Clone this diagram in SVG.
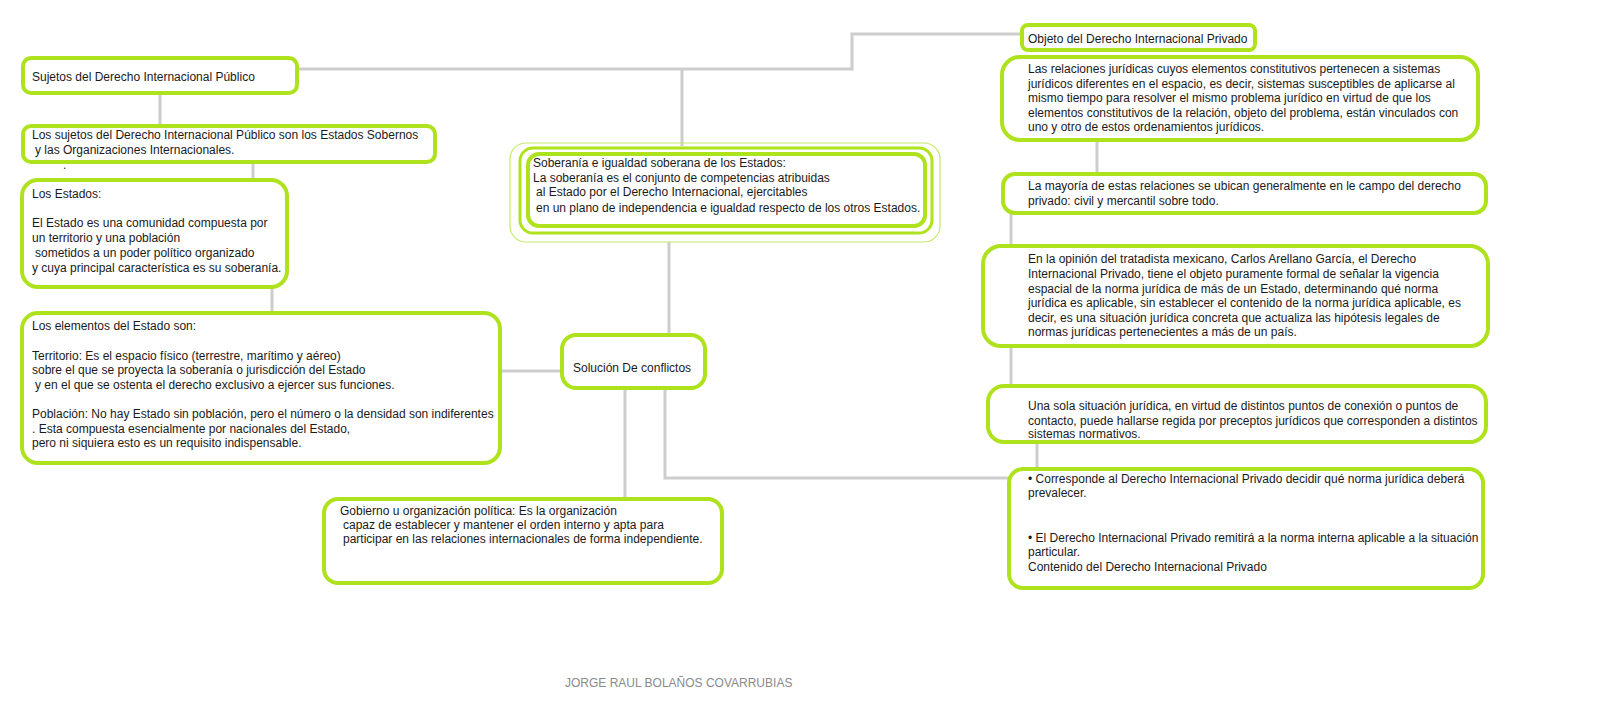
<svg xmlns="http://www.w3.org/2000/svg" width="1600" height="707" viewBox="0 0 1600 707">
<style>
.box{fill:#fff;stroke:#aee21c;stroke-width:4}
.thin{fill:none;stroke:#c4ea6a;stroke-width:1.2}
.mid{fill:none;stroke:#aee21c;stroke-width:3}
.con{fill:none;stroke:#cdcdcd;stroke-width:3;stroke-linejoin:miter}
text{font-family:"Liberation Sans",Arial,sans-serif;font-size:12px;fill:#1a1a1a}
.author{font-size:12px;fill:#8a8a8a}
</style>
<rect width="1600" height="707" fill="#fff"/>
<g id="connectors">
<polyline class="con" points="297,69 852,69 852,34 1022,34"/>
<polyline class="con" points="682,69 682,146"/>
<polyline class="con" points="160,93 160,126"/>
<polyline class="con" points="253,162 253,180"/>
<polyline class="con" points="272,287 272,313"/>
<polyline class="con" points="500,371 562,371"/>
<polyline class="con" points="669,242 669,335"/>
<polyline class="con" points="625,388 625,499"/>
<polyline class="con" points="665,388 665,478 1010,478"/>
<polyline class="con" points="1097,140 1097,174"/>
<polyline class="con" points="1011,213 1011,386"/>
<polyline class="con" points="1037,442 1037,469"/>
</g>
<g id="sujetos">
<rect class="box" x="23" y="58" width="274" height="35" rx="8"/>
<text x="32" y="81">Sujetos del Derecho Internacional Público</text>
</g>
<g id="los-sujetos">
<rect class="box" x="23" y="126" width="412" height="36" rx="8"/>
<text x="32" y="139">Los sujetos del Derecho Internacional Público son los Estados Sobernos</text>
<text x="35" y="154">y las Organizaciones Internacionales.</text>
<text x="63" y="169">.</text>
</g>
<g id="los-estados">
<rect class="box" x="22" y="180" width="265" height="107" rx="16"/>
<text x="32" y="198">Los Estados:</text>
<text x="32" y="227">El Estado es una comunidad compuesta por</text>
<text x="32" y="242">un territorio y una población</text>
<text x="35" y="257">sometidos a un poder político organizado</text>
<text x="32" y="272">y cuya principal característica es su soberanía.</text>
</g>
<g id="elementos">
<rect class="box" x="22" y="313" width="478" height="150" rx="16"/>
<text x="32" y="330">Los elementos del Estado son:</text>
<text x="32" y="360">Territorio: Es el espacio físico (terrestre, marítimo y aéreo)</text>
<text x="32" y="374">sobre el que se proyecta la soberanía o jurisdicción del Estado</text>
<text x="35" y="389">y en el que se ostenta el derecho exclusivo a ejercer sus funciones.</text>
<text x="32" y="418">Población: No hay Estado sin población, pero el número o la densidad son indiferentes</text>
<text x="32" y="433">. Esta compuesta esencialmente por nacionales del Estado,</text>
<text x="32" y="447">pero ni siquiera esto es un requisito indispensable.</text>
</g>
<g id="soberania">
<rect class="thin" x="510" y="143" width="430" height="99" rx="16"/>
<rect class="mid" x="520" y="148" width="412" height="85" rx="13"/>
<rect class="box" x="528" y="154" width="397" height="72" rx="11"/>
<text x="533" y="167">Soberanía e igualdad soberana de los Estados:</text>
<text x="533" y="182">La soberanía es el conjunto de competencias atribuidas</text>
<text x="536" y="196">al Estado por el Derecho Internacional, ejercitables</text>
<text x="536" y="212">en un plano de independencia e igualdad respecto de los otros Estados.</text>
</g>
<g id="solucion">
<rect class="box" x="562" y="335" width="143" height="53" rx="14"/>
<text x="573" y="372">Solución De conflictos</text>
</g>
<g id="gobierno">
<rect class="box" x="324" y="499" width="398" height="84" rx="14"/>
<text x="340" y="515">Gobierno u organización política: Es la organización</text>
<text x="343" y="529">capaz de establecer y mantener el orden interno y apta para</text>
<text x="343" y="543">participar en las relaciones internacionales de forma independiente.</text>
</g>
<g id="objeto">
<rect class="box" x="1022" y="25" width="233" height="25" rx="6"/>
<text x="1028" y="43">Objeto del Derecho Internacional Privado</text>
</g>
<g id="relaciones">
<rect class="box" x="1002" y="57" width="476" height="83" rx="18"/>
<text x="1028" y="73">Las relaciones jurídicas cuyos elementos constitutivos pertenecen a sistemas</text>
<text x="1028" y="88">jurídicos diferentes en el espacio, es decir, sistemas susceptibles de aplicarse al</text>
<text x="1028" y="102">mismo tiempo para resolver el mismo problema jurídico en virtud de que los</text>
<text x="1028" y="117">elementos constitutivos de la relación, objeto del problema, están vinculados con</text>
<text x="1028" y="131">uno y otro de estos ordenamientos jurídicos.</text>
</g>
<g id="mayoria">
<rect class="box" x="1003" y="174" width="483" height="39" rx="12"/>
<text x="1028" y="190">La mayoría de estas relaciones se ubican generalmente en le campo del derecho</text>
<text x="1028" y="205">privado: civil y mercantil sobre todo.</text>
</g>
<g id="opinion">
<rect class="box" x="983" y="246" width="505" height="100" rx="18"/>
<text x="1028" y="263">En la opinión del tratadista mexicano, Carlos Arellano García, el Derecho</text>
<text x="1028" y="278">Internacional Privado, tiene el objeto puramente formal de señalar la vigencia</text>
<text x="1028" y="293">espacial de la norma jurídica de más de un Estado, determinando qué norma</text>
<text x="1028" y="307">jurídica es aplicable, sin establecer el contenido de la norma jurídica aplicable, es</text>
<text x="1028" y="322">decir, es una situación jurídica concreta que actualiza las hipótesis legales de</text>
<text x="1028" y="336">normas jurídicas pertenecientes a más de un país.</text>
</g>
<g id="una-sola">
<rect class="box" x="988" y="386" width="498" height="56" rx="16"/>
<text x="1028" y="410">Una sola situación jurídica, en virtud de distintos puntos de conexión o puntos de</text>
<text x="1028" y="425">contacto, puede hallarse regida por preceptos jurídicos que corresponden a distintos</text>
<text x="1028" y="438">sistemas normativos.</text>
</g>
<g id="corresponde">
<rect class="box" x="1009" y="469" width="474" height="119" rx="14"/>
<text x="1028" y="483">• Corresponde al Derecho Internacional Privado decidir qué norma jurídica deberá</text>
<text x="1028" y="497">prevalecer.</text>
<text x="1028" y="542">• El Derecho Internacional Privado remitirá a la norma interna aplicable a la situación</text>
<text x="1028" y="556">particular.</text>
<text x="1028" y="571">Contenido del Derecho Internacional Privado</text>
</g>
<text class="author" x="565" y="687">JORGE RAUL BOLAÑOS COVARRUBIAS</text>
</svg>
